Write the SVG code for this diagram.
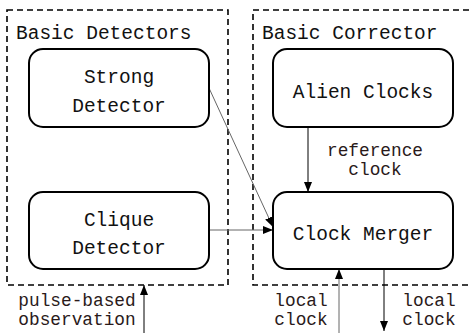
<svg xmlns="http://www.w3.org/2000/svg" width="472" height="333" viewBox="0 0 472 333">
  <defs>
    <marker id="arrow" viewBox="0 0 10 10" refX="10" refY="5" markerWidth="10" markerHeight="10" markerUnits="userSpaceOnUse" orient="auto">
      <path d="M0,1 L10,5 L0,9 z" fill="#000"/>
    </marker>
    <style>
      .group { fill: none; stroke: #000; stroke-width: 1.6; stroke-dasharray: 6 4; }
      .node rect { fill: #fff; stroke: #000; stroke-width: 2; }
      .title { font-family: "Liberation Mono", "DejaVu Sans Mono", monospace; font-size: 19.5px; fill: #111; }
      .label { font-family: "Liberation Mono", "DejaVu Sans Mono", monospace; font-size: 19.5px; fill: #111; text-anchor: middle; }
      .small { font-family: "Liberation Mono", "DejaVu Sans Mono", monospace; font-size: 17.8px; fill: #2a1a1a; text-anchor: middle; }
      .edge { fill: none; stroke: #000; stroke-width: 1; marker-end: url(#arrow); }
      .edge.grey { stroke: #666; }
    </style>
  </defs>
  <rect width="472" height="333" fill="#fff"/>

  <!-- container boxes -->
  <g id="basic-detectors">
    <rect class="group" x="7" y="10" width="221" height="275"/>
    <text class="title" x="16" y="39">Basic Detectors</text>
  </g>
  <g id="basic-corrector">
    <rect class="group" x="253" y="10" width="240" height="275"/>
    <text class="title" x="262" y="39">Basic Corrector</text>
  </g>

  <!-- connectors -->
  <g id="connectors">
    <line class="edge grey" x1="209" y1="88" x2="273" y2="227"/>
    <line class="edge grey" x1="209" y1="230" x2="273" y2="230"/>
    <line class="edge" x1="308" y1="127" x2="308" y2="192"/>
    <line class="edge" x1="144" y1="333" x2="144" y2="285"/>
    <line class="edge grey" x1="339" y1="333" x2="339" y2="269"/>
    <line class="edge" x1="384" y1="269" x2="384" y2="331"/>
  </g>

  <!-- nodes -->
  <g id="strong-detector" class="node">
    <rect x="29" y="49" width="180" height="78" rx="14"/>
    <text class="label" x="119" y="83">Strong</text>
    <text class="label" x="119" y="112">Detector</text>
  </g>
  <g id="clique-detector" class="node">
    <rect x="29" y="192" width="180" height="77" rx="14"/>
    <text class="label" x="119" y="226">Clique</text>
    <text class="label" x="119" y="254">Detector</text>
  </g>
  <g id="alien-clocks" class="node">
    <rect x="273" y="49" width="180" height="78" rx="14"/>
    <text class="label" x="363" y="98">Alien Clocks</text>
  </g>
  <g id="clock-merger" class="node">
    <rect x="273" y="192" width="180" height="77" rx="14"/>
    <text class="label" x="363" y="240">Clock Merger</text>
  </g>

  <!-- connector labels -->
  <g id="edge-labels">
    <text class="small" x="375" y="156">reference</text>
    <text class="small" x="375" y="175">clock</text>
    <text class="small" x="77" y="306">pulse-based</text>
    <text class="small" x="77" y="325">observation</text>
    <text class="small" x="301" y="306">local</text>
    <text class="small" x="301" y="325">clock</text>
    <text class="small" x="429" y="306">local</text>
    <text class="small" x="429" y="325">clock</text>
  </g>
</svg>
